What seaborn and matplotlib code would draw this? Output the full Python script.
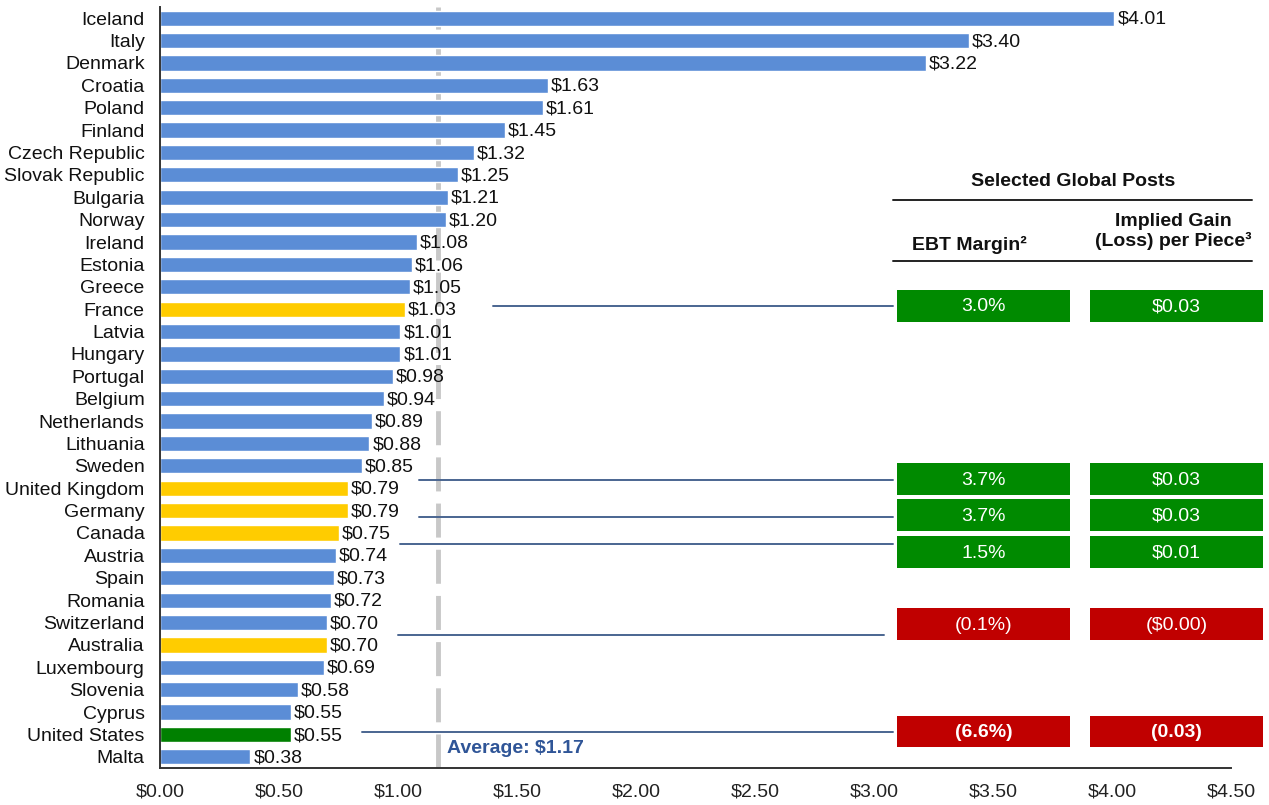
import matplotlib
matplotlib.use("Agg")
import matplotlib.pyplot as plt
import seaborn as sns
import pandas as pd
import numpy as np
from matplotlib.patches import Rectangle
from matplotlib.ticker import FixedLocator

countries = ["Iceland", "Italy", "Denmark", "Croatia", "Poland", "Finland",
             "Czech Republic", "Slovak Republic", "Bulgaria", "Norway", "Ireland",
             "Estonia", "Greece", "France", "Latvia", "Hungary", "Portugal",
             "Belgium", "Netherlands", "Lithuania", "Sweden", "United Kingdom",
             "Germany", "Canada", "Austria", "Spain", "Romania", "Switzerland",
             "Australia", "Luxembourg", "Slovenia", "Cyprus", "United States", "Malta"]
values = [4.01, 3.40, 3.22, 1.63, 1.61, 1.45, 1.32, 1.25, 1.21, 1.20, 1.08,
          1.06, 1.05, 1.03, 1.01, 1.01, 0.98, 0.94, 0.89, 0.88, 0.85, 0.79,
          0.79, 0.75, 0.74, 0.73, 0.72, 0.70, 0.70, 0.69, 0.58, 0.55, 0.55, 0.38]
selected_posts = ["France", "United Kingdom", "Germany", "Canada", "Australia"]
home_country = "United States"
average = 1.17

# Table of selected global posts
post_names = ["France", "United Kingdom", "Germany", "Canada", "Australia", "United States"]
ebt_margin = ["3.0%", "3.7%", "3.7%", "1.5%", "(0.1%)", "(6.6%)"]
gain_per_piece = ["$0.03", "$0.03", "$0.03", "$0.01", "($0.00)", "(0.03)"]
positive = [True, True, True, True, False, False]

# layout (row offsets for connector lines and box centres)
line_offsets = [-0.15, -0.38, 0.27, 0.48, -0.45, -0.13]
box_offsets = [-0.15, -0.40, 0.20, 0.86, -0.93, -0.13]
line_starts = [1.40, 1.09, 1.09, 1.01, 1.00, 0.85]
line_ends = [3.08, 3.08, 3.08, 3.08, 3.04, 3.08]
bold_rows = [False, False, False, False, False, True]

BLUE = "#5B8DD6"
YELLOW = "#FFCC00"
GREEN = "#008A00"
RED = "#C00000"
LINEC = "#4A6590"

groups = ["post" if c in selected_posts else ("home" if c == home_country else "other")
          for c in countries]
df = pd.DataFrame({"country": countries, "value": values, "group": groups})

sns.set_theme(style="white")
plt.rcParams["font.family"] = ["Liberation Sans", "DejaVu Sans"]

fig = plt.figure(figsize=(12.69, 8.05), dpi=100)
ax = fig.add_axes([160 / 1269, 1 - 768 / 805, (1231 - 160) / 1269, (768 - 7) / 805])

sns.barplot(data=df, x="value", y="country", hue="group",
            palette={"other": BLUE, "post": YELLOW, "home": "#008000"},
            dodge=False, legend=False, width=0.68, saturation=1, ax=ax, orient="h")

ax.set_xlim(0, 4.5)
ax.set_ylim(len(countries) - 0.5, -0.5)
ax.set_xlabel("")
ax.set_ylabel("")
ax.set_xticks(np.arange(0, 4.51, 0.5))
ax.set_xticklabels([f"${v:.2f}" for v in np.arange(0, 4.51, 0.5)], fontsize=14, color="#222222")
ax.tick_params(axis="y", which="major", length=0, labelsize=14, labelcolor="#111111", pad=11)
ax.yaxis.set_minor_locator(FixedLocator(np.arange(-0.5, len(countries), 1.0)))
ax.tick_params(axis="y", which="minor", length=5, width=1.3, color="#333333", direction="out")
ax.tick_params(axis="x", which="major", length=5, width=1.3, color="#333333", direction="out", pad=6)
for s in ["top", "right"]:
    ax.spines[s].set_visible(False)
for s in ["left", "bottom"]:
    ax.spines[s].set_color("#333333")
    ax.spines[s].set_linewidth(1.4)

# value labels
for i, v in enumerate(values):
    ax.text(v + 0.012, i + 0.05, f"${v:.2f}", va="center", ha="left", fontsize=14, color="#111111")

# average line
ax.axvline(average, color="#C8C8C8", lw=3.5, ls=(0, (7, 2.5)), zorder=0.5)
ax.text(average + 0.035, len(countries) - 1.35, f"Average: ${average:.2f}",
        ha="left", va="center", fontsize=14, fontweight="bold", color="#2F5597")

# table header
ax.text(3.836, 7.29, "Selected Global Posts", ha="center", va="center",
        fontsize=14, fontweight="bold", color="#111111", clip_on=False)
ax.plot([3.08, 4.59], [8.14, 8.14], color="#222222", lw=1.4, clip_on=False)
ax.text(3.40, 10.15, "EBT Margin\u00b2", ha="center", va="center",
        fontsize=14, fontweight="bold", color="#111111", clip_on=False)
ax.text(4.256, 9.53, "Implied Gain\n(Loss) per Piece\u00b3", ha="center", va="center",
        fontsize=14, fontweight="bold", color="#111111", linespacing=1.2, clip_on=False)
ax.plot([3.08, 4.59], [10.87, 10.87], color="#222222", lw=1.4, clip_on=False)

idx = {c: i for i, c in enumerate(countries)}
box_h = 1.42
col1 = (3.097, 3.824)
col2 = (3.908, 4.634)
for k, name in enumerate(post_names):
    r = idx[name]
    ly = r + line_offsets[k]
    ax.plot([line_starts[k], line_ends[k]], [ly, ly], color=LINEC, lw=1.4,
            clip_on=False, zorder=3)
    by = r + box_offsets[k]
    fc = GREEN if positive[k] else RED
    for (x0, x1), txt in zip([col1, col2], [ebt_margin[k], gain_per_piece[k]]):
        ax.add_patch(Rectangle((x0, by - box_h / 2), x1 - x0, box_h, facecolor=fc,
                               edgecolor="none", clip_on=False, zorder=3))
        ax.text((x0 + x1) / 2, by + 0.05, txt, ha="center", va="center", fontsize=14,
                color="white", fontweight="bold" if bold_rows[k] else "normal",
                clip_on=False, zorder=4)

fig.savefig("out.png", dpi=100)
